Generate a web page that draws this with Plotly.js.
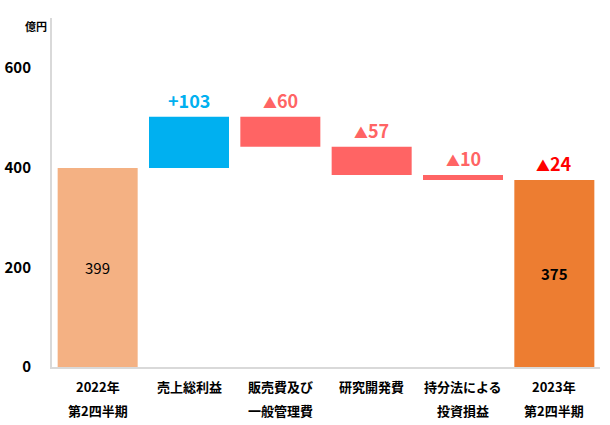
<!DOCTYPE html>
<html>
<head>
<meta charset="utf-8">
<script src="https://cdn.plot.ly/plotly-3.0.1.min.js"></script>
<style>
  html, body { margin: 0; padding: 0; background: #ffffff; }
  #chart { width: 610px; height: 425px; }
</style>
</head>
<body>
<div id="chart"></div>
<script>
// ---- データ ----
const categories = ["2022年第2四半期", "売上総利益", "販売費及び一般管理費", "研究開発費", "持分法による投資損益", "2023年第2四半期"];
const tickLine1 = ["2022年", "売上総利益", "販売費及び", "研究開発費", "持分法による", "2023年"];
const tickLine2 = ["第2四半期", "", "一般管理費", "", "投資損益", "第2四半期"];
const measures = ["absolute", "relative", "relative", "relative", "relative", "total"];
const values = [399, 103, -60, -57, -10, 375];
const topLabels = ["", "+103", "▲60", "▲57", "▲10", "▲24"];
const innerLabels = ["399", "", "", "", "", "375"];

const barColors = ["#F4B183", "#00B0F0", "#FF6464", "#FF6464", "#FF6464", "#ED7D31"];
const topLabelColors = ["#000000", "#00B0F0", "#FF6464", "#FF6464", "#FF6464", "#FF0000"];

const FONT = "'Noto Sans CJK JP', 'Noto Sans', sans-serif";

// 滝グラフの土台と高さを計算
const bases = [];
const heights = [];
let running = 0;
for (let i = 0; i < values.length; i++) {
    const v = values[i];
    if (measures[i] === "relative") {
        const next = running + v;
        bases.push(Math.min(running, next));
        heights.push(Math.abs(v));
        running = next;
    } else {
        bases.push(0);
        heights.push(v);
        running = v;
    }
}

// ▲ は数字より少し小さく表示
function formatLabel(s) {
    return s.replace("▲", "<span style='font-size:14px'>▲</span>");
}

const trace = {
    type: "bar",
    x: categories,
    y: heights,
    base: bases,
    marker: { color: barColors },
    hoverinfo: "skip"
};

const annotations = [];
for (let i = 0; i < categories.length; i++) {
    if (topLabels[i]) {
        annotations.push({
            x: categories[i],
            y: bases[i] + heights[i],
            text: formatLabel(topLabels[i]),
            showarrow: false,
            yanchor: "bottom",
            yshift: 2,
            font: { family: FONT, size: 18, color: topLabelColors[i], weight: "bold" }
        });
    }
    if (innerLabels[i]) {
        annotations.push({
            x: categories[i],
            y: bases[i] + heights[i] / 2,
            text: innerLabels[i],
            showarrow: false,
            yanchor: "middle",
            font: { family: FONT, size: 15, color: "#000000", weight: i === 0 ? "normal" : "bold" }
        });
    }
    // 項目名（2行、行間を広めに）
    [tickLine1[i], tickLine2[i]].forEach((line, k) => {
        if (!line) return;
        annotations.push({
            x: categories[i],
            xref: "x",
            yref: "paper",
            y: 0,
            yanchor: "middle",
            yshift: k === 0 ? -19 : -43,
            text: line,
            showarrow: false,
            font: { family: FONT, size: 13, color: "#000000", weight: "bold" }
        });
    });
}

// 単位
annotations.push({
    xref: "paper", yref: "paper",
    x: 0, y: 0.977,
    xanchor: "right", yanchor: "middle",
    xshift: -3,
    text: "億円",
    showarrow: false,
    font: { family: FONT, size: 11, color: "#000000", weight: "bold" }
});

const layout = {
    width: 610,
    height: 425,
    margin: { l: 52, r: 10, t: 18, b: 58 },
    paper_bgcolor: "#ffffff",
    plot_bgcolor: "#ffffff",
    showlegend: false,
    bargap: 0.124,
    font: { family: FONT, color: "#000000" },
    xaxis: {
        type: "category",
        showline: true,
        linecolor: "#D9D9D9",
        linewidth: 2,
        showgrid: false,
        ticks: "",
        showticklabels: false
    },
    yaxis: {
        range: [0, 700],
        tickvals: [0, 200, 400, 600],
        showline: true,
        linecolor: "#D9D9D9",
        linewidth: 2,
        showgrid: false,
        zeroline: false,
        ticks: "",
        ticklabelstandoff: 16,
        tickfont: { family: FONT, size: 15, color: "#000000", weight: "bold" }
    },
    annotations: annotations
};

Plotly.newPlot("chart", [trace], layout, { displayModeBar: false, staticPlot: true });
</script>
</body>
</html>
